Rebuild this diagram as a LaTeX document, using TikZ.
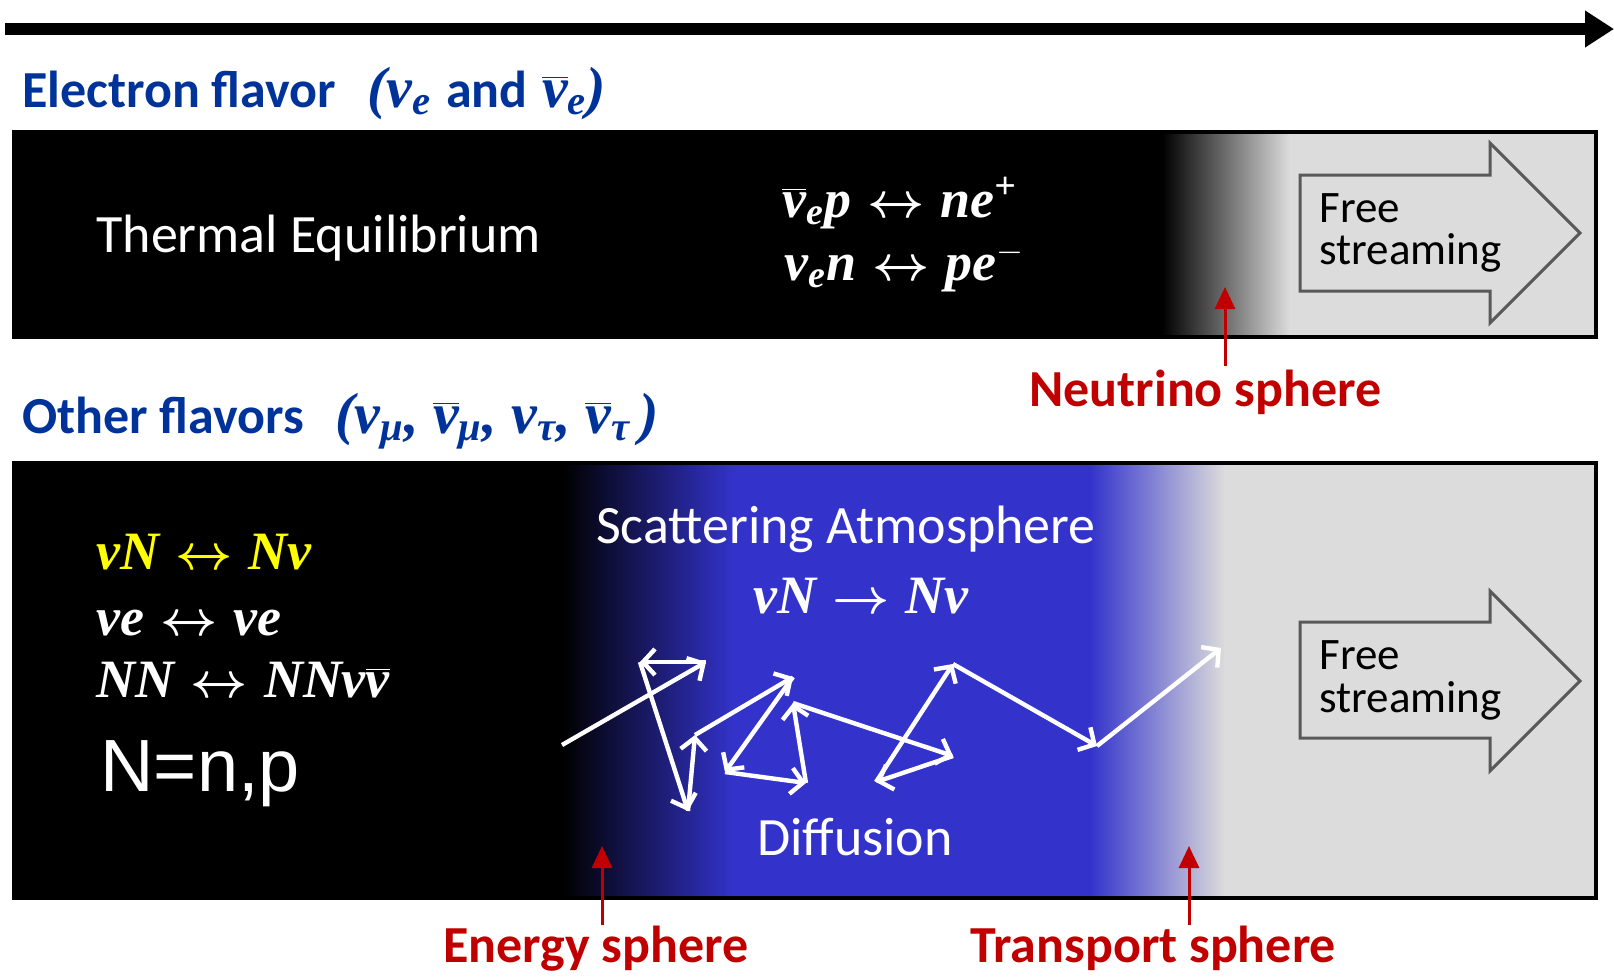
\documentclass[tikz,border=0pt]{standalone}
\usepackage{fontspec}
\setmainfont{Carlito}
\newfontfamily\eqfont{Liberation Serif}
\newfontfamily\arialfont{Liberation Sans}
\usetikzlibrary{arrows.meta,positioning}
\definecolor{hblue}{RGB}{0,51,153}
\definecolor{sred}{RGB}{192,0,0}
\definecolor{sblue}{RGB}{51,51,204}
\definecolor{lgray}{RGB}{220,220,220}
\definecolor{eqyellow}{RGB}{255,255,0}
\newcommand{\eqs}{\eqfont\bfseries\itshape}
\newcommand{\hdreq}{\fontsize{29}{30}\selectfont\eqs}
\newcommand{\nub}{$\overline{\hbox{ν}}$}
\newcommand{\lra}{\hspace{0.3em}{\boldmath$\leftrightarrow$}\hspace{0.3em}}
\newcommand{\ra}{\hspace{0.3em}{\boldmath$\rightarrow$}\hspace{0.3em}}
\tikzset{
  header/.style={
    anchor=base west, inner sep=0pt, text=hblue,
    font=\fontsize{26}{30}\selectfont\bfseries
  },
  spherelbl/.style={
    anchor=base west, inner sep=0pt, text=sred,
    font=\fontsize{26}{30}\selectfont\bfseries
  },
  spherearr/.style={
    -{Triangle[length=11pt,width=10pt]}, draw=sred, line width=1.5pt
  },
  eqn/.style={
    anchor=base west, inner sep=0pt, text=white,
    font=\fontsize{27}{32}\selectfont\eqs
  },
  wtext/.style={
    anchor=base, inner sep=0pt, text=white,
    font=\fontsize{27}{32}\selectfont
  },
  walk/.style={
    -{Straight Barb[length=6pt,width=13pt]}, draw=white, line width=2.2pt
  },
  fsarrow/.style={
    fill=lgray, draw=gray!70!black, line width=1.5pt, line join=miter
  },
  fstext/.style={
    anchor=base west, inner sep=0pt, text=black,
    font=\fontsize{22.5}{27}\selectfont
  },
  frame/.style={draw=black, line width=1.6pt}
}
\begin{document}
\begin{tikzpicture}[x=0.5pt, y=-0.5pt]
  \useasboundingbox (0,0) rectangle (1614,976);

  %% time axis
  \coordinate (t0) at (5,29);
  \coordinate (t1) at (1614,29);
  \draw[-{Triangle[length=14.5pt,width=17.5pt]}, line width=6pt] (t0) -- (t1);

  %% Electron flavor
  \node[header] (hdre) at (22,107)
    {Electron flavor\hspace{0.6em}{\hdreq (ν\textsubscript{e}
      {\rmfamily\upshape\bfseries\fontsize{26}{30}\selectfont and}
      \nub\textsubscript{e})}};

  \fill[black] (14,132) rectangle (1163,337);
  \shade[left color=black, right color=lgray] (1162,132) rectangle (1290,337);
  \fill[lgray] (1289,132) rectangle (1596,337);
  \draw[frame] (14,132) rectangle (1596,337);

  \node[wtext, anchor=base west] (thermal) at (96,252) {Thermal Equilibrium};
  \node[eqn] (eqa) at (782,217) {\nub\textsubscript{e}p\lra ne\textsuperscript{+}};
  \node[eqn] (eqb) at (784,280) {ν\textsubscript{e}n\lra pe\textsuperscript{$-$}};

  \draw[fsarrow] (1300,175) -- (1490,175) -- (1490,143) -- (1580,233)
    -- (1490,323) -- (1490,291) -- (1300,291) -- cycle;
  \node[fstext] (fsa1) at (1319,222) {Free};
  \node[fstext] (fsa2) at (1319,264) {streaming};

  %% neutrino sphere
  \node[spherelbl] (nslbl) at (1029,406) {Neutrino sphere};
  \coordinate (ns0) at (1225,366);
  \coordinate (ns) at (1225,287);
  \draw[spherearr] (ns0) -- (ns);

  %% Other flavors
  \node[header] (hdro) at (22,433)
    {Other flavors\hspace{0.6em}{\hdreq (ν\textsubscript{μ}, \nub\textsubscript{μ},
      ν\textsubscript{τ}, \nub\textsubscript{τ}\,)}};

  \fill[black] (14,463) rectangle (563,898);
  \shade[left color=black, right color=sblue] (562,463) rectangle (735,898);
  \fill[sblue] (734,463) rectangle (1091,898);
  \shade[left color=sblue, right color=lgray] (1090,463) rectangle (1225,898);
  \fill[lgray] (1224,463) rectangle (1596,898);
  \draw[frame] (14,463) rectangle (1596,898);

  \node[eqn, text=eqyellow] (eqc) at (96,569) {νN\lra Nν};
  \node[eqn] (eqd) at (96,635) {νe\lra νe};
  \node[eqn] (eqe) at (96,697) {NN\lra NNν\nub};
  \node[anchor=base west, inner sep=0pt, text=white,
    font=\arialfont\fontsize{37}{42}\selectfont] (npn) at (100,791) {N=n,p};

  \node[wtext] (scat) at (846,543) {Scattering Atmosphere};
  \node[eqn, anchor=base] (eqf) at (861,613) {νN\ra Nν};
  \node[wtext] (diff) at (855,855) {Diffusion};

  %% random walk
  \coordinate (w0) at (562,745);
  \coordinate (w1) at (706,662);
  \coordinate (w2) at (640,662);
  \coordinate (w3) at (688,811);
  \coordinate (w4) at (695,735);
  \coordinate (w5) at (793,677);
  \coordinate (w6) at (725,772);
  \coordinate (w7) at (806,783);
  \coordinate (w8) at (793,703);
  \coordinate (w9) at (953,756);
  \coordinate (w10) at (876,782);
  \coordinate (w11) at (953,664);
  \coordinate (w12) at (1097,746);
  \coordinate (w13) at (1221,648);
  \foreach \a/\b in {0/1,1/2,2/3,3/4,4/5,5/6,6/7,7/8,8/9,9/10,10/11,11/12,12/13}
    \draw[walk] (w\a) -- (w\b);

  \draw[fsarrow] (1300,622) -- (1490,622) -- (1490,591) -- (1580,681)
    -- (1490,771) -- (1490,738) -- (1300,738) -- cycle;
  \node[fstext] (fsb1) at (1319,669) {Free};
  \node[fstext] (fsb2) at (1319,712) {streaming};

  %% energy and transport spheres
  \node[spherelbl] (eslbl) at (443,962) {Energy sphere};
  \coordinate (es0) at (602,925);
  \coordinate (es) at (602,846);
  \draw[spherearr] (es0) -- (es);

  \node[spherelbl] (tslbl) at (970,962) {Transport sphere};
  \coordinate (ts0) at (1189,925);
  \coordinate (ts) at (1189,846);
  \draw[spherearr] (ts0) -- (ts);

\end{tikzpicture}
\end{document}
